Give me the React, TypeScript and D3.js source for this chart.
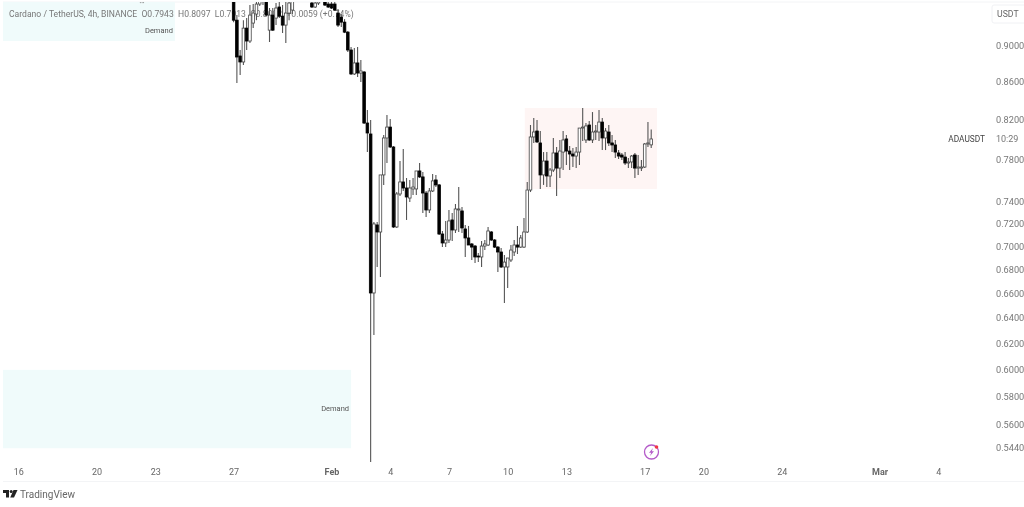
import React, { useEffect, useRef } from "react";
import * as d3 from "d3";

// 4h candles, oldest first. Bars near the top run past the visible price range.
const opens = [
  .958, .9284, .8877, .8811, .9192, .9045, .925, .9355, .9473, .9509, .9617, .9169, .9343, .9308, .9438, .9331,
  .9227, .9367, .9402, .958, .976, .962, .98, .966, .9485, .9438, .9485, .96, .9497, .9473, .9473, .9473,
  .9367, .932, .9261, .9146, .8944, .868, .88, .869, .8701, .8163, .8052, .66, .7186, .7123, .765, .8012,
  .8122, .7922, .7168, .747, .7583, .7526, .7432, .7517, .7517, .7688, .7631, .7479, .7322, .7498, .7602, .7555,
  .7105, .7026, .7052, .7231, .7141, .7322, .7313, .715, .707, .7017, .6999, .6912, .6904, .6999, .7008, .7123,
  .7052, .699, .6947, .6818, .6818, .6878, .6947, .7008, .699, .699, .7123, .7507, .8022, .8082, .7962, .765,
  .7784, .764, .7697, .7863, .7716, .7872, .8002, .7882, .7853, .7833, .7872, .8112, .7992, .8143, .7992, .8072,
  .8072, .8173, .8012, .8072, .7962, .7942, .7863, .7843, .7823, .7765, .7775, .7843, .7716, .7716, .7726, .7952,
  .7943,
];
const highs = [
  .97, .9343, .8944, .9284, .9308, .9461, .9473, .958, .9617, .964, .97, .9426, .9426, .9485, .9521, .9461,
  .9497, .9545, .958, .982, .985, .99, .992, .985, .958, .958, .97, .975, .96, .955, .955, .956,
  .9414, .9355, .9296, .9158, .8978, .8967, .8978, .8833, .8712, .8297, .8194, .7213, .7213, .765, .8042, .8245,
  .8204, .7932, .7488, .7784, .7902, .7621, .7602, .7621, .7688, .7765, .7678, .7498, .7526, .7659, .765, .7564,
  .7132, .7222, .7322, .7295, .7377, .7535, .735, .7186, .7177, .7026, .7008, .6938, .7043, .7052, .7168, .7132,
  .7061, .6999, .6982, .6921, .6895, .7008, .7052, .7177, .7097, .7249, .7583, .8143, .8214, .8194, .8082, .7872,
  .7872, .7716, .8012, .7922, .7992, .8082, .8042, .7932, .7912, .7922, .8112, .8318, .8163, .8184, .8276, .8143,
  .8297, .8214, .8112, .8143, .8042, .7992, .7892, .7863, .7872, .7814, .7843, .7863, .7843, .7794, .7962, .8173,
  .8097,
];
const lows = [
  .9261, .8583, .8669, .8778, .8944, .9023, .9192, .9284, .9449, .9461, .9331, .9034, .9158, .9227, .9308, .9135,
  .9023, .9284, .9355, .9545, .958, .958, .96, .957, .9426, .9426, .9461, .954, .9449, .9426, .9414, .939,
  .9204, .9204, .9135, .8922, .8669, .8669, .8647, .8594, .8153, .7872, .5342, .6262, .6818, .6733, .7555, .7765,
  .7912, .7159, .7159, .7451, .7498, .7231, .7396, .746, .746, .7621, .7295, .7258, .7295, .7488, .7535, .7097,
  .699, .699, .7026, .7043, .7114, .7123, .7114, .6904, .7008, .6878, .6852, .686, .6818, .6964, .6999, .7043,
  .6982, .6775, .6809, .6518, .6642, .686, .6912, .693, .6982, .6982, .7114, .7488, .7962, .7962, .7517, .7555,
  .7535, .7535, .7678, .7451, .7621, .7697, .7745, .7697, .7726, .7716, .7745, .7982, .7962, .7982, .7962, .7992,
  .7982, .7892, .7892, .7932, .7872, .7814, .7804, .7794, .7745, .7716, .7716, .7621, .765, .7688, .7716, .7922,
  .7913,
];
const closes = [
  .9284, .8866, .8811, .9192, .9045, .9343, .9367, .9473, .9557, .9617, .9343, .9343, .9169, .9426, .9331, .9227,
  .9367, .9485, .958, .976, .962, .98, .966, .975, .9438, .9485, .96, .955, .9461, .9438, .9426, .9402,
  .9227, .9261, .9146, .8944, .868, .88, .869, .8712, .8163, .8062, .66, .7195, .7123, .765, .8012, .8122,
  .7922, .7168, .747, .7583, .7526, .7442, .7526, .7535, .7688, .7631, .7479, .7322, .7498, .7593, .7555, .7105,
  .7026, .7052, .7222, .7141, .7331, .7331, .7159, .707, .7008, .699, .6904, .6904, .6999, .7017, .7132, .7052,
  .699, .6947, .6818, .686, .6895, .6964, .7008, .699, .707, .7123, .7507, .8022, .8072, .7972, .765, .7784,
  .764, .7697, .7863, .7716, .7882, .7992, .7882, .7853, .7833, .7872, .8112, .8122, .8133, .7992, .8072, .8082,
  .8173, .8012, .8082, .7962, .7942, .7872, .7833, .7823, .7765, .7775, .7833, .7716, .7726, .7726, .7952, .7962,
  .8002,
];

const lastBar = Date.UTC(2025, 1, 17, 8);
const barHours = 4;

const priceTicks = [0.9, 0.86, 0.82, 0.78, 0.74, 0.72, 0.7, 0.68, 0.66, 0.64, 0.62, 0.6, 0.58, 0.56, 0.544];

const timeTicks = [
  Date.UTC(2025, 0, 16), Date.UTC(2025, 0, 20), Date.UTC(2025, 0, 23), Date.UTC(2025, 0, 27),
  Date.UTC(2025, 1, 1), Date.UTC(2025, 1, 4), Date.UTC(2025, 1, 7), Date.UTC(2025, 1, 10),
  Date.UTC(2025, 1, 13), Date.UTC(2025, 1, 17), Date.UTC(2025, 1, 20), Date.UTC(2025, 1, 24),
  Date.UTC(2025, 2, 1), Date.UTC(2025, 2, 4),
];
const timeLabels = ["16", "20", "23", "27", "Feb", "4", "7", "10", "13", "17", "20", "24", "Mar", "4"];

// start, end, top price, bottom price, label
const demandZones = [
  { start: Date.UTC(2025, 0, 15, 5), end: Date.UTC(2025, 0, 24), top: 0.96, bottom: 0.9045, label: "Demand", labelPrice: 0.9169 },
  { start: Date.UTC(2025, 0, 15, 5), end: Date.UTC(2025, 1, 2), top: 0.5995, bottom: 0.5435, label: "Demand", labelPrice: 0.5716 },
];
const rangeBox = { start: Date.UTC(2025, 1, 10, 21), end: Date.UTC(2025, 1, 17, 15), top: 0.8318, bottom: 0.7517 };

const App: React.FC = () => {
  const ref = useRef<SVGSVGElement>(null);

  useEffect(() => {
    const svg = d3.select(ref.current!);
    svg.selectAll("*").remove();

    const font = "Roboto, 'Noto Sans', sans-serif";
    const x = d3
      .scaleUtc()
      .domain([Date.UTC(2025, 0, 16), Date.UTC(2025, 2, 4)])
      .range([18.3, 938.3]);
    const y = d3.scaleLog().domain([0.9, 0.544]).range([45, 447.5]);

    const defs = svg.append("defs");
    defs
      .append("clipPath")
      .attr("id", "plot")
      .append("rect")
      .attr("x", 3)
      .attr("y", 2)
      .attr("width", 985)
      .attr("height", 461);
    defs
      .append("filter")
      .attr("id", "soft")
      .append("feGaussianBlur")
      .attr("stdDeviation", 0.45);
    defs
      .append("filter")
      .attr("id", "softText")
      .append("feGaussianBlur")
      .attr("stdDeviation", 0.25);

    // frame
    svg.append("rect").attr("width", 1024).attr("height", 507).attr("fill", "#fff");
    svg.append("line").attr("x1", 3).attr("x2", 1024).attr("y1", 2).attr("y2", 2).attr("stroke", "#f3f4f6");
    svg.append("line").attr("x1", 3).attr("x2", 1024).attr("y1", 481.5).attr("y2", 481.5).attr("stroke", "#f3f4f6");

    const plot = svg.append("g").attr("clip-path", "url(#plot)");

    // zones
    demandZones.forEach((z) => {
      plot
        .append("rect")
        .attr("x", x(z.start))
        .attr("y", y(z.top))
        .attr("width", x(z.end) - x(z.start))
        .attr("height", y(z.bottom) - y(z.top))
        .attr("fill", "#f0fbfb");
    });
    plot
      .append("rect")
      .attr("x", x(rangeBox.start))
      .attr("y", y(rangeBox.top))
      .attr("width", x(rangeBox.end) - x(rangeBox.start))
      .attr("height", y(rangeBox.bottom) - y(rangeBox.top))
      .attr("fill", "#fef5f4");

    const labels = svg.append("g").attr("filter", "url(#softText)");

    demandZones.forEach((z) => {
      labels
        .append("text")
        .attr("x", x(z.end) - 2)
        .attr("y", y(z.labelPrice))
        .attr("dy", "0.35em")
        .attr("text-anchor", "end")
        .attr("font-family", font)
        .attr("font-size", 7.5)
        .attr("fill", "#555")
        .text(z.label);
    });

    // legend goes under the candles
    labels
      .append("text")
      .attr("x", 9)
      .attr("y", 17)
      .attr("font-family", font)
      .attr("font-size", 8.6)
      .attr("fill", "#777")
      .attr("xml:space", "preserve")
      .text("Cardano / TetherUS, 4h, BINANCE  O0.7943  H0.8097  L0.7913  C0.8002  +0.0059 (+0.74%)");
    labels
      .append("text")
      .attr("x", 142)
      .attr("y", 5)
      .attr("text-anchor", "middle")
      .attr("font-family", font)
      .attr("font-size", 5)
      .attr("fill", "#888")
      .text("•••");

    // candles
    const barX = (i: number) => x(lastBar - (opens.length - 1 - i) * barHours * 3600e3);
    const candles = svg
      .append("g")
      .attr("clip-path", "url(#plot)")
      .append("g")
      .attr("filter", "url(#soft)");
    const bars = d3.range(opens.length);

    candles
      .selectAll("line")
      .data(bars)
      .join("line")
      .attr("x1", barX)
      .attr("x2", barX)
      .attr("y1", (i) => y(highs[i]))
      .attr("y2", (i) => y(lows[i]))
      .attr("stroke", "#555")
      .attr("stroke-width", 1.1);

    candles
      .selectAll("rect")
      .data(bars)
      .join("rect")
      .attr("x", (i) => barX(i) - 1.3)
      .attr("width", 2.6)
      .attr("y", (i) => y(Math.max(opens[i], closes[i])))
      .attr("height", (i) => Math.max(0.8, Math.abs(y(opens[i]) - y(closes[i]))))
      .attr("fill", (i) => (closes[i] >= opens[i] ? "#fff" : "#000"))
      .attr("stroke", (i) => (closes[i] >= opens[i] ? "#444" : "#000"))
      .attr("stroke-width", 0.8);

    // price axis
    const yAxis = labels
      .append("g")
      .attr("transform", "translate(996,0.3)")
      .call(d3.axisRight(y).tickValues(priceTicks).tickSize(0).tickPadding(0).tickFormat(d3.format(".4f") as any));
    yAxis.select(".domain").remove();
    yAxis.selectAll("text").attr("font-family", font).attr("font-size", 9.2).attr("fill", "#777");

    // time axis
    const xAxis = labels
      .append("g")
      .attr("transform", "translate(0,466)")
      .call(
        d3
          .axisBottom(x)
          .tickValues(timeTicks as any)
          .tickSize(0)
          .tickPadding(3)
          .tickFormat((_, i) => timeLabels[i])
      );
    xAxis.select(".domain").remove();
    xAxis
      .selectAll("text")
      .attr("font-family", font)
      .attr("font-size", 9)
      .attr("fill", "#666")
      .attr("font-weight", (_, i) => (timeLabels[i] === "Feb" || timeLabels[i] === "Mar" ? 700 : 400));

    // USDT button
    labels
      .append("rect")
      .attr("x", 992)
      .attr("y", 5)
      .attr("width", 36)
      .attr("height", 18)
      .attr("rx", 2)
      .attr("fill", "#fff")
      .attr("stroke", "#f0f1f4");
    labels
      .append("text")
      .attr("x", 997)
      .attr("y", 17)
      .attr("font-family", font)
      .attr("font-size", 8.7)
      .attr("fill", "#666")
      .text("USDT");

    // symbol and countdown, at the last close
    labels
      .append("text")
      .attr("x", 985)
      .attr("y", y(closes[closes.length - 1]))
      .attr("dy", "0.35em")
      .attr("text-anchor", "end")
      .attr("font-family", font)
      .attr("font-size", 8.3)
      .attr("fill", "#444")
      .text("ADAUSDT");
    labels
      .append("text")
      .attr("x", 996)
      .attr("y", y(closes[closes.length - 1]))
      .attr("dy", "0.35em")
      .attr("font-family", font)
      .attr("font-size", 9)
      .attr("fill", "#777")
      .text("10:29");

    // purple news icon
    const icon = svg.append("g").attr("transform", "translate(651.5,452)");
    icon.append("circle").attr("r", 7).attr("fill", "#fff").attr("stroke", "#b45bc9").attr("stroke-width", 1.3);
    icon.append("path").attr("d", "M1.5,-4 L-2.5,0.8 L-0.3,0.8 L-1.5,4 L2.5,-0.8 L0.3,-0.8 Z").attr("fill", "#b45bc9");
    icon.append("circle").attr("cx", 5).attr("cy", -5).attr("r", 1.8).attr("fill", "#f23645");

    // TradingView mark
    const logo = svg.append("g").attr("transform", "translate(3,490)").attr("fill", "#222");
    logo.append("path").attr("d", "M0,0 H6 V7.5 H3 V3 H0 Z");
    logo.append("circle").attr("cx", 8.2).attr("cy", 1.5).attr("r", 1.5);
    logo.append("path").attr("d", "M10.5,0 H14.5 L11,7.5 H7.2 Z");
    labels
      .append("text")
      .attr("x", 20)
      .attr("y", 498)
      .attr("font-family", font)
      .attr("font-size", 10)
      .attr("fill", "#666")
      .text("TradingView");
  }, []);

  return <svg ref={ref} width={1024} height={507} style={{ position: "fixed", left: 0, top: 0 }} />;
};

export default App;
